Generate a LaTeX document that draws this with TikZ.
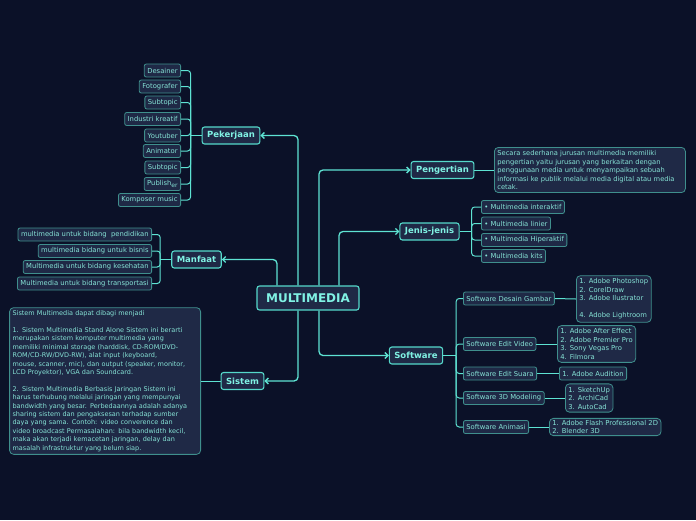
\documentclass[tikz,border=0pt]{standalone}
\usepackage{fontspec}
\setmainfont{DejaVu Sans}
\usetikzlibrary{arrows.meta}
\definecolor{bg}{HTML}{0B1128}
\definecolor{nfill}{HTML}{1F2946}
\definecolor{mainb}{HTML}{55D9CB}
\definecolor{leafb}{HTML}{3F8F8D}
\definecolor{txt}{HTML}{86E3D6}
\definecolor{ttl}{HTML}{80F2E4}
\definecolor{wire}{HTML}{5EE3D3}
\tikzset{
 mainnode/.style={draw=mainb, line width=1.1pt, fill=nfill, rounded corners=2.5pt, text=ttl, font=\fontsize{8.5}{10}\selectfont\bfseries, inner xsep=5pt, inner ysep=0pt, minimum height=17pt},
 leaf/.style={draw=leafb, line width=0.8pt, fill=nfill, rounded corners=2pt, text=txt, font=\fontsize{6.8}{7.5}\selectfont, inner xsep=3pt, inner ysep=0pt, minimum height=13pt},
 textbox/.style={draw=leafb, line width=0.8pt, fill=nfill, rounded corners=4pt, text=txt, align=left, font=\fontsize{6.5}{8.4}\selectfont, inner xsep=3pt, inner ysep=3pt},
 conn/.style={draw=wire, line width=1.3pt, rounded corners=4pt},
 arr/.style={conn, -{Straight Barb[length=3pt,width=6pt]}},
 br/.style={draw=wire, line width=1pt, rounded corners=3pt},
}
\begin{document}
\begin{tikzpicture}[x=1pt,y=-1pt]
\fill[bg] (0,0) rectangle (696,520);
\useasboundingbox (0,0) rectangle (696,520);

% center
\node[mainnode, font=\fontsize{12}{14}\selectfont\bfseries, minimum width=102pt, minimum height=24pt] (mm) at (308,298) {MULTIMEDIA};

% main nodes
\node[mainnode] (pek) at (231,135.5) {Pekerjaan};
\node[mainnode] (man) at (196.5,259.5) {Manfaat};
\node[mainnode] (pen) at (442.5,170) {Pengertian};
\node[mainnode] (jen) at (429.5,231.5) {Jenis-jenis};
\node[mainnode] (sw) at (416,355.5) {Software};
\node[mainnode] (sis) at (242.5,381) {Sistem};

\draw[arr] ([xshift=-10pt]mm.north) |- (pek.east);
\draw[arr] ([xshift=-31pt]mm.north) |- (man.east);
\draw[arr] ([xshift=11pt]mm.north) |- (pen.west);
\draw[arr] ([xshift=31pt]mm.north) |- (jen.west);
\draw[arr] ([xshift=11pt]mm.south) |- (sw.west);
\draw[arr] ([xshift=-10pt]mm.south) |- (sis.east);

% Pekerjaan leaves
\node[leaf, anchor=east] (p1) at (181,70.5) {Desainer};
\node[leaf, anchor=east] (p2) at (181,86.5) {Fotografer};
\node[leaf, anchor=east] (p3) at (181,102.5) {Subtopic};
\node[leaf, anchor=east] (p4) at (181,119) {Industri kreatif};
\node[leaf, anchor=east] (p5) at (181,135.5) {Youtuber};
\node[leaf, anchor=east] (p6) at (181,151) {Animator};
\node[leaf, anchor=east] (p7) at (181,167.5) {Subtopic};
\node[leaf, anchor=east] (p8) at (181,184) {Publish{\fontsize{6}{6}\selectfont\raisebox{-1.2pt}{er}}};
\node[leaf, anchor=east] (p9) at (181,200) {Komposer music};
\path (pek.west) ++(-11,0) coordinate (pekb);
\draw[br] (pek.west) -- (pekb);
\foreach \n in {p1,p2,p3,p4,p5,p6,p7,p8,p9} \draw[br] (pekb) |- (\n.east);

% Manfaat leaves
\node[leaf, anchor=east] (m1) at (152,234.5) {multimedia untuk bidang~ pendidikan};
\node[leaf, anchor=east] (m2) at (152,251) {multimedia bidang untuk bisnis};
\node[leaf, anchor=east] (m3) at (152,267) {Multimedia untuk bidang kesehatan};
\node[leaf, anchor=east] (m4) at (152,283.5) {Multimedia untuk bidang transportasi};
\path (man.west) ++(-11,0) coordinate (manb);
\draw[br] (man.west) -- (manb);
\foreach \n in {m1,m2,m3,m4} \draw[br] (manb) |- (\n.east);

% Pengertian
\node[textbox, anchor=west, text width=185pt, font=\fontsize{6.7}{8.5}\selectfont] (pent) at (494,170) {Secara sederhana jurusan multimedia memiliki\\pengertian yaitu jurusan yang berkaitan dengan\\penggunaan media untuk menyampaikan sebuah\\informasi ke publik melalui media digital atau media\\cetak.};
\draw[br] (pen.east) -- (pent.west);

% Jenis-jenis leaves
\node[leaf, anchor=west] (j1) at (481,207) {• Multimedia interaktif};
\node[leaf, anchor=west] (j2) at (481,223.5) {• Multimedia linier};
\node[leaf, anchor=west] (j3) at (481,240) {• Multimedia Hiperaktif};
\node[leaf, anchor=west] (j4) at (481,256) {• Multimedia kits};
\path (jen.east) ++(12,0) coordinate (jenb);
\draw[br] (jen.east) -- (jenb);
\foreach \n in {j1,j2,j3,j4} \draw[br] (jenb) |- (\n.west);

% Software children
\node[leaf, anchor=west] (s1) at (463,298.5) {Software Desain Gambar};
\node[leaf, anchor=west] (s2) at (463,344) {Software Edit Video};
\node[leaf, anchor=west] (s3) at (463,373.5) {Software Edit Suara};
\node[leaf, anchor=west] (s4) at (463,398) {Software 3D Modeling};
\node[leaf, anchor=west] (s5) at (463,427) {Software Animasi};
\path (sw.east) ++(13,0) coordinate (swb);
\draw[br] (sw.east) -- (swb);
\foreach \n in {s1,s2,s3,s4,s5} \draw[br] (swb) |- (\n.west);

% Software leaves
\node[textbox, anchor=west, font=\fontsize{6.8}{8.5}\selectfont] (t1) at (576,299) {1. Adobe Photoshop\\2. CorelDraw\\3. Adobe Ilustrator\\[8.5pt]4. Adobe Lightroom};
\node[textbox, anchor=west, font=\fontsize{6.8}{8.5}\selectfont] (t2) at (557,344) {1. Adobe After Effect\\2. Adobe Premier Pro\\3. Sony Vegas Pro\\4. Filmora};
\node[leaf, anchor=west] (t3) at (559,373.5) {1. Adobe Audition};
\node[textbox, anchor=west, font=\fontsize{6.8}{8.5}\selectfont] (t4) at (565,398) {1. SketchUp\\2. ArchiCad\\3. AutoCad};
\node[textbox, anchor=west, font=\fontsize{6.8}{8}\selectfont, inner ysep=2pt] (t5) at (549,427) {1. Adobe Flash Professional 2D\\2. Blender 3D};
\draw[br] (s1.east) -- (t1.west);
\draw[br] (s2.east) -- (t2.west);
\draw[br] (s3.east) -- (t3.west);
\draw[br] (s4.east) -- (t4.west);
\draw[br] (s5.east) -- (t5.west);

% Sistem text
\node[textbox, anchor=east, text width=185pt] (sist) at (201,381) {Sistem Multimedia dapat dibagi menjadi\\[8.4pt]1. Sistem Multimedia Stand Alone Sistem ini berarti\\merupakan sistem komputer multimedia yang\\memiliki minimal storage (harddisk, CD-ROM/DVD-\\ROM/CD-RW/DVD-RW), alat input (keyboard,\\mouse, scanner, mic), dan output (speaker, monitor,\\LCD Proyektor), VGA dan Soundcard.\\[8.4pt]2. Sistem Multimedia Berbasis Jaringan Sistem ini\\harus terhubung melalui jaringan yang mempunyai\\bandwidth yang besar. Perbedaannya adalah adanya\\sharing sistem dan pengaksesan terhadap sumber\\daya yang sama. Contoh: video converence dan\\video broadcast Permasalahan: bila bandwidth kecil,\\maka akan terjadi kemacetan jaringan, delay dan\\masalah infrastruktur yang belum siap.};
\draw[br] (sis.west) -- (sist.east);
\end{tikzpicture}
\end{document}
